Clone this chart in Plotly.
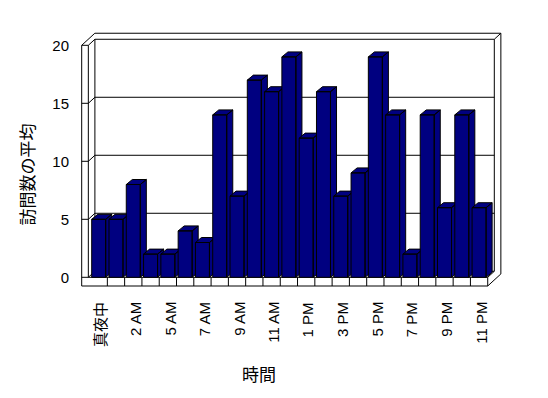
import plotly.graph_objects as go

# ---- data ----
categories = ["真夜中", "1 AM", "2 AM", "4 AM", "5 AM", "6 AM", "7 AM", "8 AM",
              "9 AM", "10 AM", "11 AM", "12 PM", "1 PM", "2 PM", "3 PM", "4 PM",
              "5 PM", "6 PM", "7 PM", "8 PM", "9 PM", "10 PM", "11 PM"]
visits = [5, 5, 8, 2, 2, 4, 3, 14, 7, 17, 16, 19, 12, 16, 7, 9, 19, 14, 2, 14, 6, 14, 6]
y_ticks = [0, 5, 10, 15, 20]
x_title = "時間"
y_title = "訪問数の平均"

# ---- style / geometry (data units) ----
FONT = "Liberation Sans, Noto Sans CJK JP, sans-serif"
BAR_COLOR = "#000080"
N = len(categories)
YMAX = 20
xLo, xLi = -0.983, -0.60        # left wall outer / inner front edges
xR = N - 0.5                    # right end of floor
Dx, Dy = 0.38, 0.52             # depth offset of the box
FLOOR = -0.75                   # floor thickness
w = 0.405                       # half bar width
Bx, By = 0.35, 0.43             # bar depth offset

fig = go.Figure()

# bars: side, top and front faces, drawn left to right
for i, v in enumerate(visits):
    xs, ys = [], []
    xs += [i + w, i + w + Bx, i + w + Bx, i + w, i + w, None]
    ys += [0, By, v + By, v, 0, None]
    xs += [i - w, i + w, i + w + Bx, i - w + Bx, i - w, None]
    ys += [v, v, v + By, v + By, v, None]
    xs += [i - w, i + w, i + w, i - w, i - w]
    ys += [0, 0, v, v, 0]
    fig.add_trace(go.Scatter(
        x=xs, y=ys, mode="lines", fill="toself", fillcolor=BAR_COLOR,
        line=dict(color="black", width=1), hoverinfo="skip", showlegend=False))

# ---- frame lines ----
segs = []
def seg(x0, y0, x1, y1):
    segs.append(dict(type="line", xref="x", yref="y", x0=x0, y0=y0, x1=x1, y1=y1,
                     line=dict(color="black", width=1), layer="below"))

# back wall
seg(xLi + Dx, YMAX + Dy, xR + Dx, YMAX + Dy)
seg(xLo + 2 * Dx, YMAX + 2 * Dy, xR + 2 * Dx, YMAX + 2 * Dy)
seg(xR + Dx, Dy, xR + Dx, YMAX + Dy)
seg(xR + 2 * Dx, FLOOR + 2 * Dy, xR + 2 * Dx, YMAX + 2 * Dy)
seg(xR + Dx, YMAX + Dy, xR + 2 * Dx, YMAX + 2 * Dy)
seg(xLi + Dx, Dy, xLi + Dx, YMAX + Dy)
seg(xLi + Dx, Dy, xR + Dx, Dy)
for t in y_ticks[1:-1]:
    seg(xLi + Dx, t + Dy, xR + Dx, t + Dy)
# left wall
seg(xLo, FLOOR, xLo, YMAX)
seg(xLi, 0, xLi, YMAX)
seg(xLo, YMAX, xLi, YMAX)
seg(xLo, YMAX, xLo + 2 * Dx, YMAX + 2 * Dy)
seg(xLi, YMAX, xLi + Dx, YMAX + Dy)
for t in y_ticks[:-1]:
    seg(xLo, t, xLi, t)
    seg(xLi, t, xLi + Dx, t + Dy)
# floor
seg(xLi, 0, xR, 0)
seg(xLo, FLOOR, xR, FLOOR)
seg(xR, FLOOR, xR, 0)
for k in range(N - 1):
    seg(k + 0.5, 0, k + 0.5, FLOOR)
seg(xR, 0, xR + Dx, Dy)
seg(xR, FLOOR, xR + 2 * Dx, FLOOR + 2 * Dy)

fig.update_layout(shapes=segs)

# ---- layout ----
# page body has an 8px margin, so the plot area starts 8px in
W, H = 548, 398
L, R, T, B = 70, 51, 20, 116
pxx = 17.29
pxy = 11.6
x_lo = (78 - 98.7) / pxx
x_hi = (505 - 98.7) / pxx
y_hi = (277.3 - 28) / pxy
y_lo = (277.3 - 290) / pxy
PW, PH = W - L - R, H - T - B

# category labels (every other category), hanging below the floor, top-aligned
cat_labels = [dict(text=categories[k], xref="x", yref="paper", x=k + 0.1,
                   y=-10 / PH, textangle=-90, showarrow=False,
                   xanchor="center", yanchor="top", font=dict(size=15))
              for k in range(0, N, 2)]

fig.update_layout(
    width=W, height=H,
    margin=dict(l=L, r=R, t=T, b=B, autoexpand=False),
    paper_bgcolor="white", plot_bgcolor="white",
    font=dict(family=FONT, size=15, color="black"),
    xaxis=dict(range=[x_lo, x_hi], showgrid=False, zeroline=False, showline=False,
               tickmode="array", tickvals=list(range(0, N, 2)),
               showticklabels=False, ticks="", fixedrange=True),
    yaxis=dict(range=[y_lo, y_hi], showgrid=False, zeroline=False, showline=False,
               tickmode="array", tickvals=y_ticks, ticktext=[str(t) for t in y_ticks],
               ticks="", ticklabelstandoff=8, tickfont=dict(size=15), fixedrange=True),
    showlegend=False,
    annotations=cat_labels + [
        dict(text=y_title, xref="paper", yref="paper",
             x=(27.5 - 8 - L) / PW, y=(290 - 175) / PH,
             textangle=-90, showarrow=False, font=dict(size=17),
             xanchor="center", yanchor="middle"),
        dict(text=x_title, xref="paper", yref="paper",
             x=(259 - 8 - L) / PW, y=(290 - 375) / PH,
             showarrow=False, font=dict(size=17),
             xanchor="center", yanchor="middle"),
    ],
)

fig.write_html("out.html")
